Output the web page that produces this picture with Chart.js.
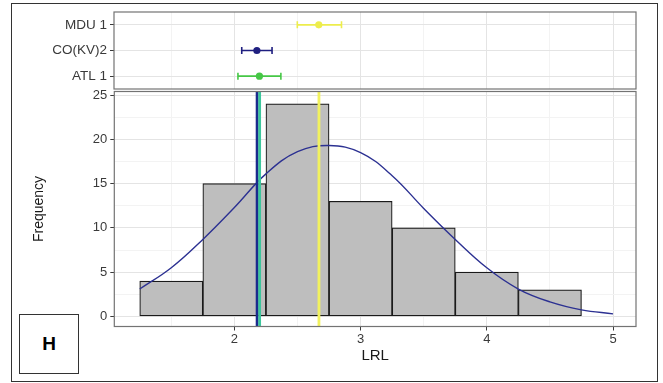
<!DOCTYPE html>
<html>
<head>
<meta charset="utf-8">
<script src="https://cdn.jsdelivr.net/npm/chart.js@4"></script>
<style>
  html, body { margin: 0; padding: 0; background: #fff; }
  #page { position: relative; width: 663px; height: 383px; overflow: hidden; background: #fff; }
  #page canvas { position: absolute; left: 0; top: 0; }
  #frame { position: absolute; left: 11px; top: 3px; width: 647px; height: 379px; border: 1px solid #333; box-sizing: border-box; }
  #tag { position: absolute; left: 19px; top: 314px; width: 60px; height: 60px; border: 1px solid #333; box-sizing: border-box;
         font: bold 19px "Liberation Sans", Arial, sans-serif; color: #000;
         display: flex; align-items: center; justify-content: center; background: #fff; }
</style>
</head>
<body>
<div id="page">
  <div id="frame"></div>
  <canvas id="meansChart" width="663" height="383"></canvas>
  <canvas id="histChart" width="663" height="383"></canvas>
  <div id="tag">H</div>
</div>
<script>
// Group summaries: mean with lower / upper interval limits
const groups = ['MDU 1', 'CO(KV)2', 'ATL 1'];
const groupMeans = [2.67, 2.18, 2.20];
const groupLow = [2.50, 2.06, 2.03];
const groupHigh = [2.85, 2.30, 2.37];
const groupColors = ['#eded4c', '#1f1f80', '#46c746'];
const meanLineColors = ['#f2f25e', '#1c2b8e', '#3cc69c'];

// Histogram of LRL (bin width 0.5)
const binCenters = [1.5, 2.0, 2.5, 3.0, 3.5, 4.0, 4.5];
const binCounts = [4, 15, 24, 13, 10, 5, 3];

// Fitted density curve, scaled to counts
const curveX = [1.25, 1.5, 1.75, 2.0, 2.25, 2.5, 2.75, 3.0, 3.25, 3.5, 3.75, 4.0, 4.25, 4.5, 4.75, 5.0];
const curveY = [3.1, 5.5, 8.7, 12.3, 16.1, 18.6, 19.3, 18.5, 15.9, 12.2, 8.7, 5.5, 3.1, 1.65, 0.75, 0.3];

// Axis ticks (labelled) and grid positions (major + minor)
const xTicks = [2, 3, 4, 5];
const xGrid = [1.5, 2, 2.5, 3, 3.5, 4, 4.5, 5];
const yTicks = [0, 5, 10, 15, 20, 25];
const yGrid = [0, 2.5, 5, 7.5, 10, 12.5, 15, 17.5, 20, 22.5, 25];

const X_MIN = 1.0485, X_MAX = 5.182;
const Y_MIN = -1.13, Y_MAX = 25.4;

const FONT = '"Liberation Sans", Arial, sans-serif';
const MAJOR = '#e4e4e4', MINOR = '#f3f3f3', TICK = '#3a3a3a';

Chart.defaults.font.family = FONT;

const panelFrame = {
  id: 'panelFrame',
  afterDraw(chart) {
    const a = chart.chartArea, ctx = chart.ctx;
    ctx.save();
    ctx.strokeStyle = '#737373';
    ctx.lineWidth = 1.2;
    ctx.strokeRect(a.left, a.top, a.right - a.left, a.bottom - a.top);
    ctx.restore();
  }
};

const errorBars = {
  id: 'errorBars',
  beforeDatasetsDraw(chart) {
    const { ctx, scales: { x, y } } = chart;
    ctx.save();
    ctx.lineWidth = 1.6;
    groups.forEach((g, i) => {
      const py = y.getPixelForValue(i);
      const x0 = x.getPixelForValue(groupLow[i]);
      const x1 = x.getPixelForValue(groupHigh[i]);
      ctx.strokeStyle = groupColors[i];
      ctx.beginPath();
      ctx.moveTo(x0, py); ctx.lineTo(x1, py);
      ctx.moveTo(x0, py - 3.5); ctx.lineTo(x0, py + 3.5);
      ctx.moveTo(x1, py - 3.5); ctx.lineTo(x1, py + 3.5);
      ctx.stroke();
    });
    ctx.restore();
  }
};

const meanLines = {
  id: 'meanLines',
  afterDatasetsDraw(chart) {
    const { ctx, chartArea: a, scales: { x } } = chart;
    ctx.save();
    ctx.lineWidth = 2.8;
    groups.forEach((g, i) => {
      const px = x.getPixelForValue(groupMeans[i]);
      ctx.strokeStyle = meanLineColors[i];
      ctx.beginPath();
      ctx.moveTo(px, a.top);
      ctx.lineTo(px, a.bottom);
      ctx.stroke();
    });
    ctx.restore();
  }
};

const gridX = {
  color: (c) => xTicks.includes(c.tick.value) ? MAJOR : MINOR,
  lineWidth: 1
};

// Upper panel: group means with intervals
new Chart(document.getElementById('meansChart'), {
  type: 'scatter',
  data: {
    datasets: [{
      data: groups.map((g, i) => ({ x: groupMeans[i], y: g })),
      pointBackgroundColor: groupColors,
      pointBorderWidth: 0,
      pointRadius: 3.6
    }]
  },
  options: {
    responsive: false,
    animation: false,
    devicePixelRatio: 1,
    layout: { padding: { left: 14, top: 12, right: 27, bottom: 294 } },
    plugins: { legend: { display: false }, tooltip: { enabled: false } },
    scales: {
      x: {
        type: 'linear', min: X_MIN, max: X_MAX,
        afterBuildTicks: (s) => { s.ticks = xGrid.map(v => ({ value: v })); },
        afterFit: (s) => { s.height = 0; },
        ticks: { display: false },
        grid: Object.assign({ drawTicks: false }, gridX),
        border: { display: false }
      },
      y: {
        type: 'category', labels: groups, offset: true,
        afterFit: (s) => { s.width = 100; },
        ticks: { color: TICK, font: { size: 13.5 }, padding: 3 },
        grid: { offset: false, color: MAJOR, tickLength: 4, tickColor: TICK },
        border: { display: false }
      }
    }
  },
  plugins: [errorBars, panelFrame]
});

// Lower panel: histogram with density curve and group mean lines
new Chart(document.getElementById('histChart'), {
  type: 'bar',
  data: {
    datasets: [
      {
        type: 'line',
        data: curveX.map((v, i) => ({ x: v, y: curveY[i] })),
        borderColor: '#2c3192',
        borderWidth: 1.4,
        pointRadius: 0,
        tension: 0.4,
        fill: false,
        order: 1
      },
      {
        type: 'bar',
        data: binCenters.map((v, i) => ({ x: v, y: binCounts[i] })),
        backgroundColor: '#bebebe',
        borderColor: '#1a1a1a',
        borderWidth: 1.2,
        borderSkipped: false,
        barPercentage: 1,
        categoryPercentage: 1,
        order: 2
      }
    ]
  },
  options: {
    responsive: false,
    animation: false,
    devicePixelRatio: 1,
    layout: { padding: { left: 30.5, top: 91.5, right: 27, bottom: 18.5 } },
    plugins: { legend: { display: false }, tooltip: { enabled: false } },
    scales: {
      x: {
        type: 'linear', min: X_MIN, max: X_MAX, offset: false,
        afterBuildTicks: (s) => { s.ticks = xGrid.map(v => ({ value: v })); },
        afterFit: (s) => { s.height = 38; },
        ticks: {
          autoSkip: false, maxRotation: 0, color: TICK, font: { size: 13 }, padding: 1,
          callback: (v) => xTicks.includes(v) ? String(v) : ''
        },
        grid: Object.assign({
          offset: false, tickLength: 4,
          tickColor: (c) => xTicks.includes(c.tick.value) ? TICK : 'rgba(0,0,0,0)'
        }, gridX),
        border: { display: false },
        title: { display: true, text: 'LRL', color: '#1a1a1a', font: { size: 15 }, padding: 0 }
      },
      y: {
        type: 'linear', min: Y_MIN, max: Y_MAX,
        afterBuildTicks: (s) => { s.ticks = yGrid.map(v => ({ value: v })); },
        afterFit: (s) => { s.width = 83.8; },
        ticks: {
          autoSkip: false, color: TICK, font: { size: 13 }, padding: 3,
          callback: (v) => yTicks.includes(v) ? String(v) : ''
        },
        grid: {
          tickLength: 4,
          color: (c) => yTicks.includes(c.tick.value) ? MAJOR : MINOR,
          tickColor: (c) => yTicks.includes(c.tick.value) ? TICK : 'rgba(0,0,0,0)'
        },
        border: { display: false },
        title: { display: true, text: 'Frequency', color: '#1a1a1a', font: { size: 14 }, padding: 0 }
      }
    }
  },
  plugins: [meanLines, panelFrame]
});
</script>
</body>
</html>
